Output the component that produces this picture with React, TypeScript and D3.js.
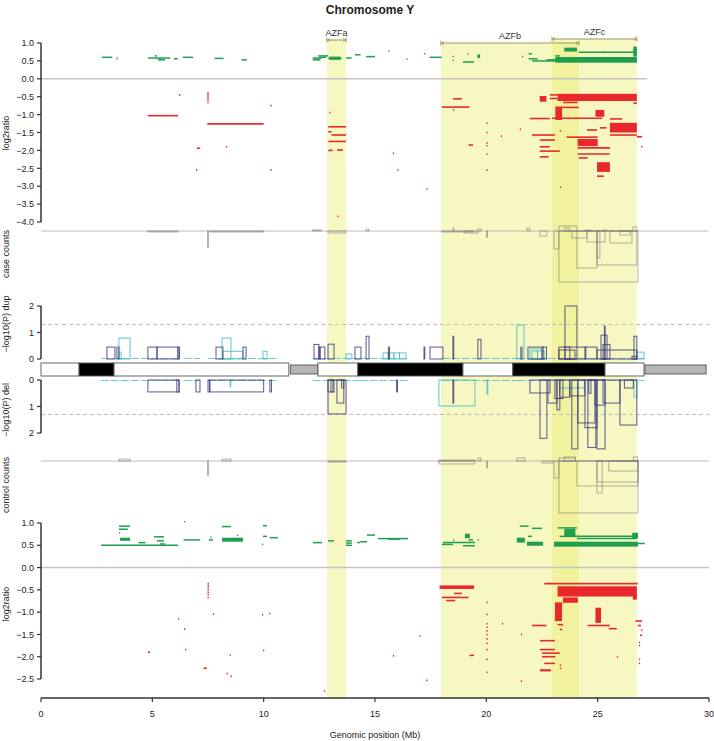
import React from "react";
import * as d3 from "d3";

// ---------- DATA ----------
const chromTicks = [0, 5, 10, 15, 20, 25, 30];
const topLogTicks = [1.0, 0.5, 0.0, -0.5, -1.0, -1.5, -2.0, -2.5, -3.0, -3.5, -4.0];
const botLogTicks = [1.0, 0.5, 0.0, -0.5, -1.0, -1.5, -2.0, -2.5];
const pTicks = [0, 1, 2];
const pThreshold = 1.3;

// AZF regions [label, start Mb, end Mb]
const azfRegions: [string, number, number][] = [
  ["AZFa", 12.84, 13.7],
  ["AZFb", 17.96, 24.16],
  ["AZFc", 22.95, 26.76],
];

// Ideogram bands [start, end, stain]
const ideogramBands: [number, number, string][] = [
  [0, 1.71, "w"], [1.71, 3.28, "b"], [3.28, 11.13, "w"], [11.2, 12.44, "g"],
  [12.44, 14.23, "w"], [14.23, 18.95, "b"], [18.95, 21.19, "w"], [21.19, 25.33, "b"],
  [25.33, 27.08, "w"], [27.12, 29.87, "g"],
];

// Case log2ratio segments [start, end, value]
const caseGainLines: [number, number, number][] = [
  [2.74, 3.2, 0.6], [3.38, 3.45, 0.57], [4.8, 5.8, 0.58], [5.25, 5.57, 0.53], [5.1, 5.2, 0.64],
  [5.97, 6.15, 0.56], [6.37, 6.83, 0.6], [7.8, 8.2, 0.57], [9.0, 9.25, 0.53],
  [12.2, 12.6, 0.58], [12.2, 12.55, 0.53], [12.45, 12.9, 0.64], [12.5, 12.8, 0.6],
  [12.9, 13.5, 0.57], [13.7, 13.95, 0.58], [14.1, 14.35, 0.67], [14.6, 15.0, 0.62],
  [15.6, 15.65, 0.78], [16.4, 16.45, 0.55], [17.2, 17.25, 0.7], [17.45, 18.0, 0.6],
  [18.48, 18.53, 0.62], [18.48, 18.53, 0.52], [18.95, 19.45, 0.47], [19.15, 19.2, 0.69],
  [21.6, 21.65, 0.62], [21.9, 22.05, 0.7], [21.9, 22.3, 0.56], [22.05, 22.4, 0.5],
  [22.4, 26.76, 0.5], [22.7, 26.76, 0.53], [23.1, 26.76, 0.56], [23.1, 26.76, 0.59],
  [24.15, 26.76, 0.74], [25.2, 25.3, 0.74], [23.1, 23.3, 0.64],
];
const caseGainBlocks: [number, number, number, number][] = [
  [12.95, 13.45, 0.53, 0.62], [23.1, 26.76, 0.45, 0.52], [23.5, 24.07, 0.76, 0.87],
  [26.6, 26.76, 0.62, 0.9], [19.6, 19.72, 0.58, 0.68],
];
const caseLossLines: [number, number, number][] = [
  [6.2, 6.25, -0.45], [4.8, 6.15, -1.03], [7.47, 10.0, -1.26], [7.0, 7.15, -1.94], [8.3, 8.35, -1.9],
  [7.47, 7.53, -0.4], [7.47, 7.53, -0.45], [7.47, 7.53, -0.5], [7.47, 7.53, -0.55],
  [7.47, 7.53, -0.6], [7.47, 7.53, -0.66],
  [6.96, 7.0, -2.55], [10.3, 10.35, -2.55], [10.3, 10.35, -0.75], [12.95, 13.0, -0.94],
  [12.9, 13.7, -1.34], [12.9, 13.05, -1.48], [13.05, 13.7, -1.57], [12.9, 13.7, -1.75],
  [12.9, 13.1, -2.0], [13.3, 13.56, -1.99], [13.3, 13.35, -3.84],
  [18.5, 18.9, -0.56], [18.0, 19.25, -0.79], [18.5, 18.55, -0.87],
  [20.0, 20.05, -1.24], [20.0, 20.05, -1.5], [20.0, 20.05, -1.79], [20.0, 20.05, -1.87],
  [20.0, 20.05, -2.1], [20.0, 20.05, -2.55], [19.2, 19.4, -1.85], [20.65, 20.7, -1.6],
  [21.5, 21.55, -1.41], [15.8, 15.85, -2.08], [16.0, 16.05, -2.55], [17.3, 17.35, -3.08],
  [22.85, 23.2, -0.45], [22.85, 23.2, -0.55], [23.45, 24.1, -0.66], [23.1, 24.15, -0.8],
  [21.95, 22.85, -1.11], [22.95, 25.2, -1.1], [25.55, 26.1, -1.12], [24.52, 24.97, -1.43],
  [25.1, 25.4, -1.37], [25.55, 26.76, -1.57], [26.76, 27.0, -1.62], [26.95, 27.0, -1.9],
  [22.05, 23.08, -1.57], [22.4, 23.08, -1.71], [23.6, 25.0, -1.63], [22.4, 22.85, -1.9],
  [22.4, 23.3, -2.02], [22.4, 22.8, -2.18], [24.1, 25.55, -1.93], [24.1, 25.55, -2.1],
  [24.15, 24.55, -2.21], [24.97, 25.28, -2.72], [23.3, 23.35, -3.03], [23.3, 23.35, -1.45],
  [26.6, 26.76, -0.68],
];
const caseLossBlocks: [number, number, number, number][] = [
  [22.4, 22.7, -0.48, -0.64], [23.2, 26.76, -0.42, -0.62], [23.1, 23.4, -0.78, -1.15],
  [24.9, 25.3, -0.87, -1.06], [25.55, 26.76, -1.23, -1.5], [24.1, 25.0, -1.68, -1.88],
  [24.97, 25.55, -2.33, -2.6],
];

// Control log2ratio segments [start, end, value]
const ctrlGainLines: [number, number, number][] = [
  [2.7, 6.15, 0.5], [3.5, 4.0, 0.93], [3.5, 3.9, 0.86], [3.5, 3.55, 0.78], [4.37, 4.7, 0.56],
  [5.07, 5.52, 0.69], [5.21, 5.52, 0.6], [5.35, 5.57, 0.53], [6.4, 7.15, 0.62], [6.42, 6.47, 1.03],
  [7.54, 7.72, 0.62], [7.6, 7.65, 0.68], [8.13, 8.53, 0.92], [8.8, 8.85, 0.72], [9.97, 10.15, 0.94],
  [9.97, 10.15, 0.7], [9.92, 9.97, 0.52], [10.28, 10.64, 0.67], [12.21, 12.62, 0.56],
  [12.89, 13.16, 0.6], [13.7, 13.96, 0.6], [13.7, 13.96, 0.55], [13.7, 13.96, 0.5],
  [14.2, 14.32, 0.56], [14.32, 14.64, 0.58], [14.64, 15.0, 0.73], [15.13, 16.48, 0.65],
  [18.05, 19.49, 0.56], [18.5, 18.55, 0.62], [19.6, 19.65, 0.62], [18.95, 19.49, 0.49],
  [21.5, 21.9, 0.93], [22.05, 22.5, 0.88], [21.87, 22.05, 0.7], [23.21, 24.07, 0.89],
  [24.07, 26.76, 0.7], [24.07, 26.76, 0.65], [26.81, 27.12, 0.54], [23.3, 24.1, 0.7],
  [18.0, 18.5, 0.52], [19.2, 19.4, 0.62],
];
const ctrlGainBlocks: [number, number, number, number][] = [
  [3.55, 4.0, 0.6, 0.67], [8.13, 9.07, 0.58, 0.67], [15.6, 16.1, 0.62, 0.66],
  [19.04, 19.26, 0.66, 0.76], [21.37, 21.73, 0.56, 0.67], [21.82, 22.55, 0.49, 0.58],
  [23.04, 26.81, 0.47, 0.58], [23.5, 24.0, 0.7, 0.87], [26.55, 26.81, 0.65, 0.78],
];
const ctrlLossLines: [number, number, number][] = [
  [7.48, 7.53, -0.36], [7.48, 7.53, -0.41], [7.48, 7.53, -0.46], [7.48, 7.53, -0.51],
  [7.48, 7.53, -0.56], [7.48, 7.53, -0.61], [7.48, 7.53, -0.67],
  [7.72, 7.77, -1.04], [6.15, 6.2, -1.15], [6.42, 6.47, -1.38], [6.47, 6.52, -1.84],
  [4.8, 4.9, -1.9], [7.3, 7.45, -2.26], [8.47, 8.52, -1.96], [8.33, 8.38, -2.38],
  [8.51, 8.56, -2.44], [9.92, 9.97, -1.06], [10.24, 10.29, -1.03], [9.97, 10.02, -1.86],
  [12.7, 12.75, -2.77], [17.0, 17.05, -1.53], [15.8, 15.85, -1.98], [17.3, 17.35, -2.53],
  [21.55, 21.6, -2.55], [18.0, 19.2, -0.67], [18.55, 18.9, -0.58], [18.2, 18.6, -0.74],
  [20.0, 20.05, -0.78], [20.0, 20.05, -1.05], [20.0, 20.05, -1.26], [20.0, 20.05, -1.34],
  [20.0, 20.05, -1.42], [20.0, 20.05, -1.5], [20.0, 20.05, -1.6], [20.0, 20.05, -1.7],
  [20.0, 20.05, -1.84], [20.0, 20.05, -2.06], [20.0, 20.05, -2.35],
  [20.7, 20.75, -1.26], [21.55, 21.6, -1.5], [19.25, 19.45, -1.97],
  [22.6, 26.8, -0.36], [22.05, 22.7, -1.3], [24.55, 25.55, -1.3], [25.5, 25.86, -1.37],
  [22.41, 23.08, -1.64], [22.41, 23.08, -1.84], [22.5, 23.3, -1.92], [22.5, 23.1, -2.0],
  [22.6, 23.08, -2.15], [25.86, 25.91, -2.0], [23.3, 23.35, -2.19], [23.3, 23.35, -2.26],
  [23.3, 23.4, -1.39], [23.3, 23.4, -1.0], [23.2, 23.45, -1.28],
  [26.7, 27.0, -1.2], [26.8, 26.95, -1.3], [26.9, 27.0, -1.52], [26.85, 26.9, -1.68],
  [26.85, 26.9, -1.75], [26.85, 26.9, -2.06], [26.85, 26.9, -2.15], [26.95, 27.0, -1.4],
];
const ctrlLossBlocks: [number, number, number, number][] = [
  [17.9, 19.45, -0.4, -0.48], [23.2, 26.76, -0.42, -0.65],
  [23.44, 24.11, -0.67, -0.79], [23.08, 23.4, -0.78, -1.2], [24.9, 25.15, -0.9, -1.24],
  [22.41, 22.9, -2.28, -2.33], [26.58, 26.76, -0.6, -0.72],
];

// Copy-number counts [start, end, count]  (+ gains above, - losses below)
const caseCounts: [number, number, number][] = [
  [23.26, 24.07, 5], [23.53, 23.75, 3], [24.45, 24.7, 1], [25.24, 25.42, 1], [26.58, 26.76, 4],
  [19.62, 19.76, 2], [21.82, 21.96, 3], [18.5, 18.55, 3], [14.6, 14.73, 2], [12.2, 12.6, 1],
  [23.04, 23.26, -18], [23.26, 26.81, -51], [24.07, 24.97, -37], [24.97, 26.76, -34],
  [24.97, 25.1, -27], [25.55, 26.54, -12], [22.41, 22.72, -5], [20.0, 20.06, -6],
  [12.89, 13.7, -2], [19.0, 19.62, -2], [23.84, 24.52, -7], [24.52, 25.33, -11],
  [26.0, 26.45, -4], [7.48, 7.53, -16], [4.8, 6.15, -1], [18.0, 19.4, -1], [7.6, 10.0, -1],
];
const ctrlCounts: [number, number, number][] = [
  [21.37, 21.73, 3], [19.62, 19.76, 3], [23.5, 24.0, 4], [26.6, 26.8, 4], [3.5, 4.0, 2],
  [8.13, 8.53, 2], [23.26, 24.0, 3], [17.87, 19.49, 1],
  [23.26, 26.81, -52], [24.07, 26.81, -25], [24.97, 26.81, -21], [25.5, 26.81, -10],
  [23.04, 23.26, -17], [24.97, 25.2, -32], [17.87, 19.49, -3], [20.0, 20.05, -7],
  [7.48, 7.53, -14], [12.89, 13.7, -1], [22.5, 23.0, -2],
];

// -log10(P) boxes [start, end, value]
const dupNavy: [number, number, number][] = [
  [2.96, 3.32, 0.45], [3.41, 3.5, 0.45], [4.8, 5.21, 0.45], [5.21, 6.15, 0.45], [6.15, 6.22, 0.45],
  [7.86, 8.17, 0.45], [9.07, 9.21, 0.45], [12.26, 12.48, 0.55], [12.48, 12.53, 0.45],
  [12.53, 12.75, 0.45], [12.89, 13.16, 0.56], [14.1, 14.37, 0.45], [14.6, 14.73, 0.86],
  [15.6, 15.65, 0.45], [17.2, 17.23, 0.45], [17.47, 18.05, 0.45], [18.5, 18.53, 0.86],
  [19.62, 19.76, 0.74], [21.55, 21.6, 0.45], [21.87, 22.7, 0.45], [22.5, 22.55, 0.45],
  [23.26, 24.97, 0.45], [23.53, 24.07, 2.0], [23.26, 23.98, 0.34], [24.43, 24.47, 0.45],
  [24.97, 26.76, 0.34], [25.15, 25.42, 0.9], [25.3, 25.33, 1.24], [25.24, 25.55, 0.55],
  [26.63, 26.76, 0.86], [26.54, 26.76, 0.1], [23.53, 23.75, 0.45],
];
const dupCyan: [number, number, number][] = [
  [3.5, 4.0, 0.79], [3.5, 3.6, 0.26], [8.13, 8.53, 0.79], [8.17, 9.07, 0.29], [9.97, 10.15, 0.29],
  [13.7, 13.96, 0.19], [15.36, 15.6, 0.23], [15.6, 15.85, 0.23], [15.85, 16.1, 0.23],
  [16.1, 16.39, 0.23], [21.37, 21.69, 1.28], [21.96, 22.5, 0.38], [22.05, 22.3, 0.3],
  [22.3, 22.6, 0.3], [26.76, 27.08, 0.26],
];
const delNavy: [number, number, number][] = [
  [4.8, 6.2, 0.45], [6.1, 6.2, 0.45], [6.96, 7.14, 0.45], [7.5, 7.58, 0.45], [7.58, 10.0, 0.45],
  [10.28, 10.35, 0.45], [12.89, 13.11, 0.45], [13.02, 13.16, 0.45], [12.89, 13.7, 1.28],
  [13.29, 13.6, 0.87], [13.5, 13.6, 0.3], [15.97, 16.01, 0.45], [18.5, 18.53, 0.87],
  [21.96, 22.86, 0.49], [22.41, 22.72, 2.2], [22.77, 23.17, 0.87], [23.17, 23.3, 1.13],
  [23.08, 23.44, 0.7], [23.3, 23.75, 0.65], [23.84, 24.11, 2.6], [23.75, 24.43, 0.6],
  [24.11, 24.88, 1.62], [24.43, 24.97, 1.8], [24.56, 24.92, 2.55], [24.88, 25.33, 0.95],
  [24.97, 25.33, 2.6], [25.24, 26.0, 0.87], [26.0, 26.76, 1.7], [26.2, 26.6, 0.3], [24.6, 24.7, 0.5],
];
const delCyan: [number, number, number][] = [
  [17.87, 19.49, 0.98], [20.03, 20.06, 0.53], [8.49, 8.52, 0.25], [26.63, 26.76, 0.64],
  [23.3, 24.4, 0.3],
];
// near-zero test stretches [start, end]
const nullStretches: [number, number][] = [
  [2.69, 6.15], [6.4, 7.14], [7.5, 10.64], [12.2, 14.3], [14.3, 16.5], [18.0, 21.4], [21.4, 27.1],
];

// ---------- LAYOUT ----------
const W = 714, H = 741;
const FONT = "'Liberation Sans', Arial, Helvetica, sans-serif";
const GREEN = "#1f9e4f", RED = "#e8282b", NAVY = "#3b3b7e", CYAN = "#45bdcb";
const AXC = "#333";
const MINUS = "\u2212";

const x = d3.scaleLinear().domain([0, 30]).range([41, 709]);
const yTop = d3.scaleLinear().domain([-4, 1]).range([222, 43]);
const yBot = d3.scaleLinear().domain([-2.5, 1]).range([679, 523]);
const yDup = d3.scaleLinear().domain([0, 2]).range([359, 306]);
const yDel = d3.scaleLinear().domain([0, 2]).range([380, 433]);
const yCase = d3.scaleLinear().domain([-60, 10]).range([291, 221]);
const yCtrl = d3.scaleLinear().domain([-60, 10]).range([521, 451]);
const fmt = (v: number) => d3.format(".1f")(v).replace("-", MINUS).replace("\u2212", MINUS);

function Segs({ lines, blocks, y, color, sw }: any) {
  return (
    <g>
      {blocks.map((b: number[], i: number) => (
        <rect key={"b" + i} x={x(b[0])} width={Math.max(1.2, x(b[1]) - x(b[0]))}
          y={Math.min(y(b[2]), y(b[3]))} height={Math.abs(y(b[2]) - y(b[3]))} fill={color} />
      ))}
      {lines.map((l: number[], i: number) => {
        const x0 = x(l[0]);
        const x1 = Math.max(x(l[1]), x0 + 1.3);
        return <line key={"l" + i} x1={x0} x2={x1} y1={y(l[2])} y2={y(l[2])} stroke={color} strokeWidth={sw} />;
      })}
    </g>
  );
}

function PBoxes({ data, y, color }: any) {
  return (
    <g>
      {data.map((d: number[], i: number) => {
        const y0 = y(0), y1 = y(d[2]);
        return <rect key={i} x={x(d[0])} width={Math.max(0.8, x(d[1]) - x(d[0]))}
          y={Math.min(y0, y1)} height={Math.abs(y1 - y0)} fill="none" stroke={color} strokeWidth={1} strokeOpacity={0.85} />;
      })}
    </g>
  );
}

function CountBoxes({ data, y }: any) {
  return (
    <g>
      {data.map((d: number[], i: number) => {
        const y0 = y(0), y1 = y(d[2]);
        return <rect key={i} x={x(d[0])} width={Math.max(0.6, x(d[1]) - x(d[0]))}
          y={Math.min(y0, y1)} height={Math.abs(y1 - y0)} fill="none" stroke="#777" strokeWidth={0.7} strokeOpacity={0.8} />;
      })}
    </g>
  );
}

function YAxis({ y, ticks, from, to, label, labelY, fmtFn }: any) {
  return (
    <g fontFamily={FONT} fontSize={9} fill="#222">
      <line x1={41} x2={41} y1={y(from)} y2={y(to)} stroke={AXC} strokeWidth={1.5} />
      {ticks.map((t: number) => (
        <g key={t}>
          <line x1={37} x2={41} y1={y(t)} y2={y(t)} stroke={AXC} strokeWidth={1.2} />
          <text x={34} y={y(t) + 3.2} textAnchor="end">{fmtFn(t)}</text>
        </g>
      ))}
      {label && <text transform={`translate(9,${labelY}) rotate(-90)`} textAnchor="middle">{label}</text>}
    </g>
  );
}

export default function App() {
  const bandTop: Record<string, number> = { AZFa: 40, AZFb: 43, AZFc: 39 };
  return (
    <svg width={W} height={H} style={{ position: "absolute", left: 0, top: 0, background: "#fff" }}>
      <rect width={W} height={H} fill="#fff" />
      {/* highlight bands */}
      {azfRegions.map(([n, s, e]) => (
        <rect key={n} x={x(s)} width={x(e) - x(s)} y={bandTop[n]} height={698 - bandTop[n]} fill="#ebeb6e" fillOpacity={0.42} />
      ))}
      {/* AZF brackets */}
      {azfRegions.map(([n, s, e]) => {
        const by = bandTop[n];
        return (
          <g key={"br" + n} stroke="#9a9a5a" strokeWidth={1}>
            <line x1={x(s)} x2={x(e)} y1={by} y2={by} />
            <line x1={x(s)} x2={x(s)} y1={by - 2.5} y2={by + 2.5} />
            <line x1={x(e)} x2={x(e)} y1={by - 2.5} y2={by + 2.5} />
            <polyline points={`${x(s) + 3},${by - 1.5} ${x(s) + 1},${by} ${x(s) + 3},${by + 1.5}`} fill="none" />
            <polyline points={`${x(e) - 3},${by - 1.5} ${x(e) - 1},${by} ${x(e) - 3},${by + 1.5}`} fill="none" />
            <text x={(x(s) + x(e)) / 2} y={by - 4.5} textAnchor="middle" fontFamily={FONT} fontSize={9} fill="#333" stroke="none">{n}</text>
          </g>
        );
      })}
      {/* title */}
      <text x={370} y={14} textAnchor="middle" fontFamily={FONT} fontSize={12} fontWeight="bold" fill="#222">Chromosome Y</text>

      {/* top log2 panel */}
      <line x1={41} x2={647} y1={yTop(0)} y2={yTop(0)} stroke="#c4c4c4" strokeWidth={1.5} />
      <Segs lines={caseGainLines} blocks={caseGainBlocks} y={yTop} color={GREEN} sw={1.5} />
      <Segs lines={caseLossLines} blocks={caseLossBlocks} y={yTop} color={RED} sw={1.6} />
      <YAxis y={yTop} ticks={topLogTicks} from={1} to={-4} label="log2ratio" labelY={133} fmtFn={fmt} />

      {/* case counts */}
      <line x1={41} x2={708} y1={yCase(0)} y2={yCase(0)} stroke="#bbb" strokeWidth={1.2} />
      <CountBoxes data={caseCounts} y={yCase} />
      <text transform="translate(9,254) rotate(-90)" textAnchor="middle" fontFamily={FONT} fontSize={9} fill="#222">case counts</text>

      {/* dup p */}
      <line x1={41} x2={709} y1={yDup(pThreshold)} y2={yDup(pThreshold)} stroke="#bbb" strokeDasharray="4,3" strokeWidth={1} />
      {nullStretches.map((s, i) => (
        <line key={"nd" + i} x1={x(s[0])} x2={x(s[1])} y1={yDup(0.02)} y2={yDup(0.02)} stroke={CYAN} strokeWidth={1} strokeDasharray="8,2" strokeOpacity={0.8} />
      ))}
      <PBoxes data={dupCyan} y={yDup} color={CYAN} />
      <PBoxes data={dupNavy} y={yDup} color={NAVY} />
      <YAxis y={yDup} ticks={pTicks} from={0} to={2} label={MINUS + "log10(P) dup"} labelY={324} fmtFn={(t: number) => String(t)} />

      {/* ideogram */}
      {ideogramBands.map((b, i) => {
        const g = b[2] === "g";
        return <rect key={"id" + i} x={x(b[0])} width={x(b[1]) - x(b[0])} y={g ? 365 : 363} height={g ? 9 : 13}
          fill={b[2] === "b" ? "#000" : g ? "#b5b5b5" : "#fff"} stroke="#555" strokeWidth={0.9} />;
      })}

      {/* del p */}
      <line x1={41} x2={709} y1={yDel(pThreshold)} y2={yDel(pThreshold)} stroke="#bbb" strokeDasharray="4,3" strokeWidth={1} />
      {nullStretches.map((s, i) => (
        <line key={"nl" + i} x1={x(s[0])} x2={x(s[1])} y1={yDel(0.02)} y2={yDel(0.02)} stroke={CYAN} strokeWidth={1} strokeDasharray="8,2" strokeOpacity={0.8} />
      ))}
      <PBoxes data={delCyan} y={yDel} color={CYAN} />
      <PBoxes data={delNavy} y={yDel} color={NAVY} />
      <YAxis y={yDel} ticks={pTicks} from={0} to={2} label={MINUS + "log10(P) del"} labelY={410} fmtFn={(t: number) => String(t)} />

      {/* control counts */}
      <line x1={41} x2={709} y1={yCtrl(0)} y2={yCtrl(0)} stroke="#bbb" strokeWidth={1.2} />
      <CountBoxes data={ctrlCounts} y={yCtrl} />
      <text transform="translate(9,485) rotate(-90)" textAnchor="middle" fontFamily={FONT} fontSize={9} fill="#222">control counts</text>

      {/* bottom log2 panel */}
      <line x1={41} x2={709} y1={yBot(0)} y2={yBot(0)} stroke="#c4c4c4" strokeWidth={1.5} />
      <Segs lines={ctrlGainLines} blocks={ctrlGainBlocks} y={yBot} color={GREEN} sw={1.5} />
      <Segs lines={ctrlLossLines} blocks={ctrlLossBlocks} y={yBot} color={RED} sw={1.6} />
      <YAxis y={yBot} ticks={botLogTicks} from={1} to={-2.5} label="log2ratio" labelY={604} fmtFn={fmt} />

      {/* x axis */}
      <g fontFamily={FONT} fontSize={9} fill="#222">
        <line x1={x(0)} x2={x(30)} y1={698} y2={698} stroke={AXC} strokeWidth={1.5} />
        {chromTicks.map((t) => (
          <g key={t}>
            <line x1={x(t)} x2={x(t)} y1={698} y2={702} stroke={AXC} strokeWidth={1.2} />
            <text x={x(t)} y={717} textAnchor="middle">{t}</text>
          </g>
        ))}
        <text x={375} y={738} textAnchor="middle">Genomic position (Mb)</text>
      </g>
    </svg>
  );
}
